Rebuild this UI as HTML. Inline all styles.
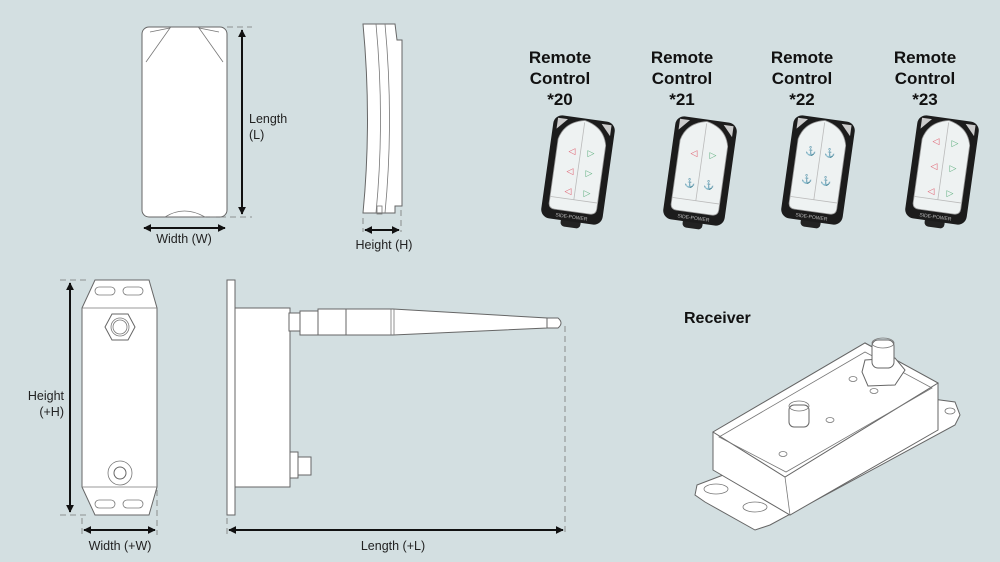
<!DOCTYPE html>
<html><head><meta charset="utf-8"><style>
html,body{margin:0;padding:0;background:#d3dfe1;}
svg{display:block;}
text{font-family:"Liberation Sans",sans-serif;fill:#1a1a1a;}
.b{font-weight:bold;font-size:17px;text-anchor:middle;fill:#111;}
.l{font-size:12.5px;fill:#222;}
.o{fill:#fff;stroke:#666;stroke-width:1;}
.n{fill:none;stroke:#777;stroke-width:0.8;}
.d{stroke:#777;stroke-width:0.8;stroke-dasharray:6 4;fill:none;}
.a{stroke:#111;stroke-width:2;fill:none;}
</style></head><body>
<svg width="1000" height="562" viewBox="0 0 1000 562" xmlns="http://www.w3.org/2000/svg">
<defs>
<marker id="ah" viewBox="0 0 10 10" refX="9" refY="5" markerWidth="4" markerHeight="4" orient="auto-start-reverse"><path d="M0,0 L10,5 L0,10 z" fill="#111"/></marker>
<g id="rem">
<rect x="-10" y="48" width="20" height="10" rx="4" fill="#222"/>
<rect x="-31" y="-52" width="62" height="104" rx="9" fill="#1c1c1c"/>
<path d="M-24,-28 Q-20,-46 0,-50 Q20,-46 24,-28 L24,36 Q24,42 18,42 L-18,42 Q-24,42 -24,36 Z" fill="#eef2f2" stroke="#999" stroke-width="0.8"/>
<path d="M-27,-49 L-17,-49 L-27,-38 Z" fill="#ccc"/>
<path d="M27,-49 L17,-49 L27,-38 Z" fill="#ccc"/>
<line x1="0" y1="-48" x2="0" y2="30" stroke="#bbb" stroke-width="0.8"/>
<line x1="-24" y1="30" x2="24" y2="30" stroke="#bbb" stroke-width="0.8"/>
<text x="0" y="49" font-size="5" text-anchor="middle" style="fill:#bbb">SIDE-POWER</text>
</g>
</defs>

<rect x="142" y="27" width="85" height="190" rx="7" class="o"/>
<path d="M150,32 L170,28 L146,62" class="n"/>
<path d="M219,32 L199,28 L223,62" class="n"/>
<path d="M165,217 Q184,205 205,217" class="n"/>
<line x1="227" y1="27" x2="252" y2="27" class="d"/>
<line x1="200" y1="217" x2="252" y2="217" class="d"/>
<line x1="242" y1="30" x2="242" y2="214" class="a" marker-start="url(#ah)" marker-end="url(#ah)"/>
<text x="249" y="123" class="l">Length</text>
<text x="249" y="139" class="l">(L)</text>
<line x1="144" y1="228" x2="225" y2="228" class="a" marker-start="url(#ah)" marker-end="url(#ah)"/>
<text x="184" y="243" class="l" text-anchor="middle">Width (W)</text>

<path d="M363,24 L395,24 L397,40 L402,40 L402,206 L395,206 L395,213 L363,213 Q372,120 363,24 Z" class="o"/>
<path d="M376,24 Q385,120 376,213" class="n"/>
<path d="M385,24 Q394,120 385,213" class="n"/>
<rect x="377" y="206" width="5" height="8" class="n"/>
<line x1="363" y1="218" x2="363" y2="232" class="d"/>
<line x1="401" y1="210" x2="401" y2="232" class="d"/>
<line x1="365" y1="230" x2="399" y2="230" class="a" marker-start="url(#ah)" marker-end="url(#ah)"/>
<text x="384" y="249" class="l" text-anchor="middle">Height (H)</text>

<text x="560" y="63" class="b">Remote</text><text x="560" y="84" class="b">Control</text><text x="560" y="105" class="b">*20</text>
<text x="682" y="63" class="b">Remote</text><text x="682" y="84" class="b">Control</text><text x="682" y="105" class="b">*21</text>
<text x="802" y="63" class="b">Remote</text><text x="802" y="84" class="b">Control</text><text x="802" y="105" class="b">*22</text>
<text x="925" y="63" class="b">Remote</text><text x="925" y="84" class="b">Control</text><text x="925" y="105" class="b">*23</text>
<use href="#rem" transform="translate(578,170) rotate(8)"/>
<use href="#rem" transform="translate(700,171) rotate(8)"/>
<use href="#rem" transform="translate(818,170) rotate(8)"/>
<use href="#rem" transform="translate(942,170) rotate(8)"/>
<g font-size="9" text-anchor="middle">
<text x="572" y="154" style="fill:#e06070">◁</text><text x="591" y="156" style="fill:#60b080">▷</text>
<text x="570" y="174" style="fill:#e06070">◁</text><text x="589" y="176" style="fill:#60b080">▷</text>
<text x="568" y="194" style="fill:#e06070">◁</text><text x="587" y="196" style="fill:#60b080">▷</text>
<text x="694" y="156" style="fill:#e06070">◁</text><text x="713" y="158" style="fill:#60b080">▷</text>
<text x="690" y="186" style="fill:#222">⚓</text><text x="709" y="188" style="fill:#222">⚓</text>
<text x="811" y="154" style="fill:#222">⚓</text><text x="830" y="156" style="fill:#222">⚓</text>
<text x="807" y="182" style="fill:#222">⚓</text><text x="826" y="184" style="fill:#222">⚓</text>
<text x="936" y="144" style="fill:#e06070">◁</text><text x="955" y="146" style="fill:#60b080">▷</text>
<text x="934" y="169" style="fill:#e06070">◁</text><text x="953" y="171" style="fill:#60b080">▷</text>
<text x="931" y="194" style="fill:#e06070">◁</text><text x="950" y="196" style="fill:#60b080">▷</text>
</g>

<path d="M95,280 L149,280 L157,308 L157,487 L149,515 L95,515 L82,487 L82,308 Z" class="o"/>
<line x1="82" y1="308" x2="157" y2="308" class="n"/>
<line x1="82" y1="487" x2="157" y2="487" class="n"/>
<rect x="95" y="287" width="20" height="8" rx="4" class="n"/>
<rect x="123" y="287" width="20" height="8" rx="4" class="n"/>
<rect x="95" y="500" width="20" height="8" rx="4" class="n"/>
<rect x="123" y="500" width="20" height="8" rx="4" class="n"/>
<polygon points="112,314 128,314 135,327 128,340 112,340 105,327" class="o"/>
<circle cx="120" cy="327" r="9" class="n"/><circle cx="120" cy="327" r="7" class="n"/>
<circle cx="120" cy="473" r="12" class="n"/><circle cx="120" cy="473" r="6" class="o"/>
<line x1="60" y1="280" x2="90" y2="280" class="d"/>
<line x1="60" y1="515" x2="90" y2="515" class="d"/>
<line x1="82" y1="518" x2="82" y2="535" class="d"/>
<line x1="157" y1="490" x2="157" y2="535" class="d"/>
<line x1="70" y1="283" x2="70" y2="512" class="a" marker-start="url(#ah)" marker-end="url(#ah)"/>
<text x="64" y="400" class="l" text-anchor="end">Height</text>
<text x="64" y="416" class="l" text-anchor="end">(+H)</text>
<line x1="84" y1="530" x2="155" y2="530" class="a" marker-start="url(#ah)" marker-end="url(#ah)"/>
<text x="120" y="550" class="l" text-anchor="middle">Width (+W)</text>

<rect x="227" y="280" width="8" height="235" class="o"/>
<rect x="235" y="308" width="55" height="179" class="o"/>
<rect x="289" y="313" width="11" height="18" class="o"/>
<rect x="290" y="452" width="8" height="26" class="o"/>
<rect x="298" y="457" width="13" height="18" class="o"/>
<rect x="300" y="311" width="18" height="24" class="o"/>
<rect x="318" y="309" width="28" height="26" class="o"/>
<path d="M346,309 L393,309 L547,318 L547,328 L393,335 L346,335 Z" class="o"/>
<line x1="391" y1="309" x2="391" y2="335" class="n"/><line x1="394" y1="309" x2="394" y2="335" class="n"/>
<path d="M547,318 L558,318 Q564,323 558,328 L547,328 Z" class="o"/>
<line x1="565" y1="326" x2="565" y2="535" class="d"/>
<line x1="227" y1="518" x2="227" y2="535" class="d"/>
<line x1="229" y1="530" x2="563" y2="530" class="a" marker-start="url(#ah)" marker-end="url(#ah)"/>
<text x="393" y="550" class="l" text-anchor="middle">Length (+L)</text>

<text x="684" y="323" style="font-weight:bold;font-size:16px;fill:#111">Receiver</text>
<path d="M697,485 L925,398 L955,402 L960,415 L955,425 L770,525 L755,530 L705,502 L695,495 Z" class="o"/>
<path d="M713,432 L865,343 L938,383 L938,430 L790,515 L713,470 Z" class="o"/>
<path d="M713,432 L865,343 L938,383 L785,477 Z" class="o"/>
<path d="M719,437 L865,352 L932,388 L786,472 Z" class="n"/>
<line x1="785" y1="477" x2="790" y2="515" class="n"/>
<ellipse cx="716" cy="489" rx="12" ry="5" class="n"/>
<ellipse cx="755" cy="507" rx="12" ry="5" class="n"/>
<ellipse cx="950" cy="411" rx="5" ry="3" class="n"/>
<polygon points="865,360 895,358 905,370 895,385 868,386 862,372" class="o"/>
<rect x="872" y="340" width="22" height="28" rx="6" class="o"/>
<ellipse cx="883" cy="343" rx="11" ry="5" class="n"/>
<rect x="789" y="405" width="20" height="22" rx="5" class="o"/>
<ellipse cx="799" cy="406" rx="10" ry="5" class="n"/>
<ellipse cx="853" cy="379" rx="4" ry="2.5" class="n"/>
<ellipse cx="874" cy="391" rx="4" ry="2.5" class="n"/>
<ellipse cx="830" cy="420" rx="4" ry="2.5" class="n"/>
<ellipse cx="783" cy="454" rx="4" ry="2.5" class="n"/>
</svg>
</body></html>
